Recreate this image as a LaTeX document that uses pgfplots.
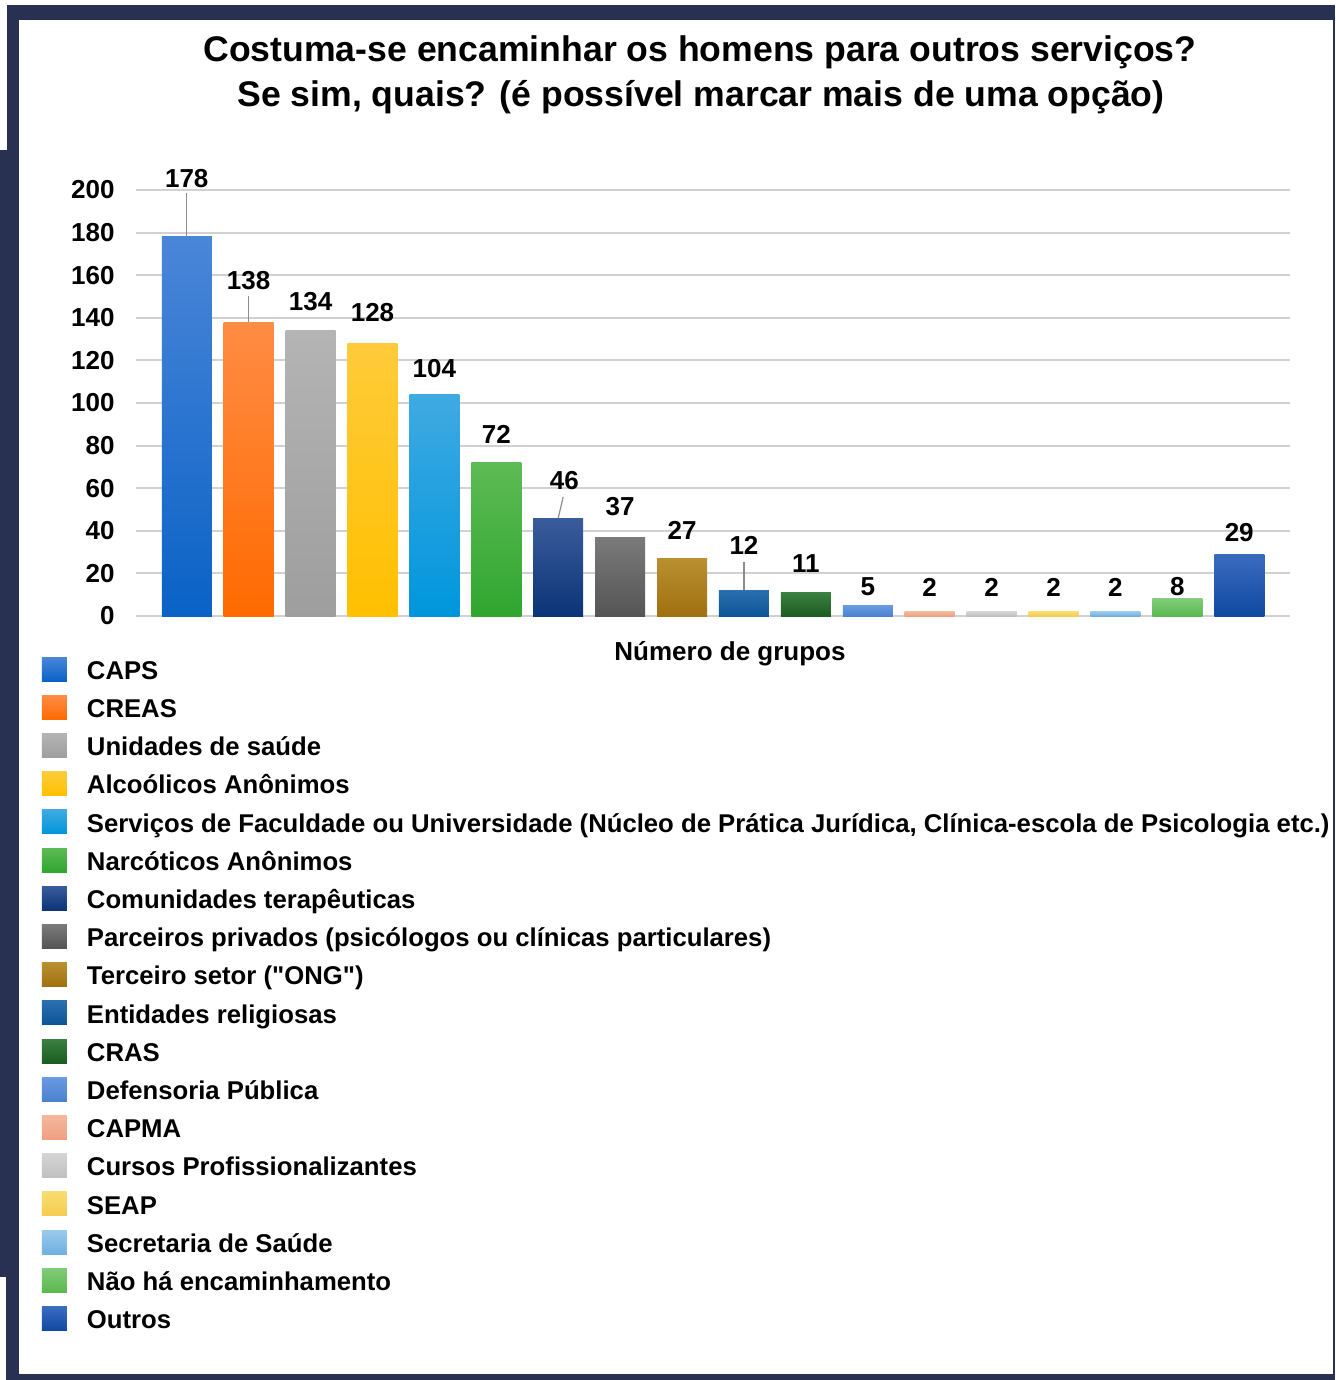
\documentclass[border=0pt]{standalone}
\usepackage{fontspec}
\setmainfont{Liberation Sans}
\usepackage{pgfplots}
\usepackage{pgfplotstable}
\pgfplotsset{compat=1.18}

\definecolor{navy}{HTML}{283152}
\definecolor{c1T}{HTML}{4A86D8}\definecolor{c1B}{HTML}{0A62C6}
\definecolor{c2T}{HTML}{FF8C45}\definecolor{c2B}{HTML}{FF6A00}
\definecolor{c3T}{HTML}{B4B4B4}\definecolor{c3B}{HTML}{9E9E9E}
\definecolor{c4T}{HTML}{FFCB3A}\definecolor{c4B}{HTML}{FFC000}
\definecolor{c5T}{HTML}{3FAAE2}\definecolor{c5B}{HTML}{0096DC}
\definecolor{c6T}{HTML}{5DBB55}\definecolor{c6B}{HTML}{2FA62F}
\definecolor{c7T}{HTML}{3B5C9C}\definecolor{c7B}{HTML}{0B3478}
\definecolor{c8T}{HTML}{7A7A7A}\definecolor{c8B}{HTML}{555555}
\definecolor{c9T}{HTML}{B89030}\definecolor{c9B}{HTML}{A07010}
\definecolor{c10T}{HTML}{2A70B0}\definecolor{c10B}{HTML}{0B5596}
\definecolor{c11T}{HTML}{3A8040}\definecolor{c11B}{HTML}{1C5C20}
\definecolor{c12T}{HTML}{6A9AE0}\definecolor{c12B}{HTML}{4A82D0}
\definecolor{c13T}{HTML}{F4B89C}\definecolor{c13B}{HTML}{F0A080}
\definecolor{c14T}{HTML}{D4D4D4}\definecolor{c14B}{HTML}{C0C0C0}
\definecolor{c15T}{HTML}{F8DC70}\definecolor{c15B}{HTML}{F4CC50}
\definecolor{c16T}{HTML}{9ACAEC}\definecolor{c16B}{HTML}{70B0E0}
\definecolor{c17T}{HTML}{80CC78}\definecolor{c17B}{HTML}{5CB850}
\definecolor{c18T}{HTML}{3A6CC0}\definecolor{c18B}{HTML}{0F4AA0}

\pgfplotsset{sb/.style={top color=#1T, bottom color=#1B, draw=none}}

% label positions (centre of the number, in data units)
\pgfplotstableread{
x ly lab
0 205.6 178
1 157.3 138
2 147.4 134
3 142.3 128
4 116.0 104
5 85.4 72
6.1 63.8 46
7 51.6 37
8 40.4 27
9 33.3 12
10 24.4 11
11 13.6 5
12 13.6 2
13 13.6 2
14 13.6 2
15 13.6 2
16 13.6 8
17 39.4 29
}\labtab

\newcommand{\bfs}{\fontsize{13}{13}\selectfont\bfseries}
\newcommand{\lfs}{\fontsize{12.85}{13}\selectfont\bfseries}

\begin{document}
\begin{tikzpicture}
% frame
\fill[navy] (0,0) rectangle (667.5pt,-690pt);
\fill[white] (0,0) rectangle (667.5pt,-2.5pt);
\fill[white] (0,0) rectangle (3.5pt,-75pt);
\fill[white] (0,-638.5pt) rectangle (3pt,-690pt);
\fill[white] (9.5pt,-10pt) rectangle (666.5pt,-687pt);

\begin{axis}[
  at={(68pt,-308pt)}, anchor=south west,
  scale only axis, width=577pt, height=213pt,
  ybar, bar width=25pt, bar shift=0pt,
  xmin=-0.82, xmax=17.82, ymin=0, ymax=200,
  xtick=\empty, ytick={0,20,...,200},
  ymajorgrids, grid style={line width=1pt, color=black!18},
  axis line style={draw=none}, major tick length=0pt,
  yticklabel style={font=\bfs, inner sep=0pt, anchor=east, xshift=-10.5pt},
  /pgf/number format/assume math mode=true,
  clip=false,
  legend cell align=left,
  legend style={at={(axis description cs:-0.0815,-0.0963)}, anchor=north west,
    draw=none, fill=none, inner sep=0pt, outer sep=0pt, font=\lfs,
    row sep=5pt,
    nodes={inner sep=0pt, text height=11pt, text depth=3pt},
    /tikz/every odd column/.append style={column sep=10pt}},
  legend image code/.code={\path[#1,draw=none] (0pt,-4.9pt) rectangle (12.5pt,7.1pt);},
]
\addplot[sb=c1] coordinates {(0,178)};
\addplot[sb=c2] coordinates {(1,138)};
\addplot[sb=c3] coordinates {(2,134)};
\addplot[sb=c4] coordinates {(3,128)};
\addplot[sb=c5] coordinates {(4,104)};
\addplot[sb=c6] coordinates {(5,72)};
\addplot[sb=c7] coordinates {(6,46)};
\addplot[sb=c8] coordinates {(7,37)};
\addplot[sb=c9] coordinates {(8,27)};
\addplot[sb=c10] coordinates {(9,12)};
\addplot[sb=c11] coordinates {(10,11)};
\addplot[sb=c12] coordinates {(11,5)};
\addplot[sb=c13] coordinates {(12,2)};
\addplot[sb=c14] coordinates {(13,2)};
\addplot[sb=c15] coordinates {(14,2)};
\addplot[sb=c16] coordinates {(15,2)};
\addplot[sb=c17] coordinates {(16,8)};
\addplot[sb=c18] coordinates {(17,29)};
\legend{CAPS, CREAS, Unidades de saúde, Alcoólicos Anônimos,
  {Serviços de Faculdade ou Universidade (Núcleo de Prática Jurídica, Clínica-escola de Psicologia etc.)},
  Narcóticos Anônimos, Comunidades terapêuticas,
  Parceiros privados (psicólogos ou clínicas particulares),
  Terceiro setor ({\textquotedbl}ONG{\textquotedbl}), Entidades religiosas, CRAS, Defensoria Pública,
  CAPMA, Cursos Profissionalizantes, SEAP, Secretaria de Saúde,
  Não há encaminhamento, Outros}

% value labels
\addplot[draw=none, fill=none, forget plot, nodes near coords,
  point meta=explicit symbolic,
  every node near coord/.append style={anchor=center, font=\bfs, text=black, inner sep=0pt}]
  table[x=x, y=ly, meta=lab] {\labtab};

% leader lines
\draw[black!45, line width=0.6pt] (axis cs:0,178) -- (axis cs:0,198.6);
\draw[black!45, line width=0.6pt] (axis cs:1,138) -- (axis cs:1,150.2);
\draw[black!45, line width=0.6pt] (axis cs:6,46) -- (axis cs:6.08,55.9);
\draw[black!45, line width=0.6pt] (axis cs:9,12) -- (axis cs:9,25.4);
\end{axis}

\node[anchor=base, font=\fontsize{17.8}{17.8}\selectfont\bfseries] at (350pt,-31pt)
  {Costuma-se encaminhar os homens para outros serviços?};
\node[anchor=base, font=\fontsize{17.8}{17.8}\selectfont\bfseries] at (350.5pt,-53.5pt)
  {Se sim, quais? (é possível marcar mais de uma opção)};
\node[anchor=base, font=\bfs] at (365pt,-330pt) {Número de grupos};
\end{tikzpicture}
\end{document}
